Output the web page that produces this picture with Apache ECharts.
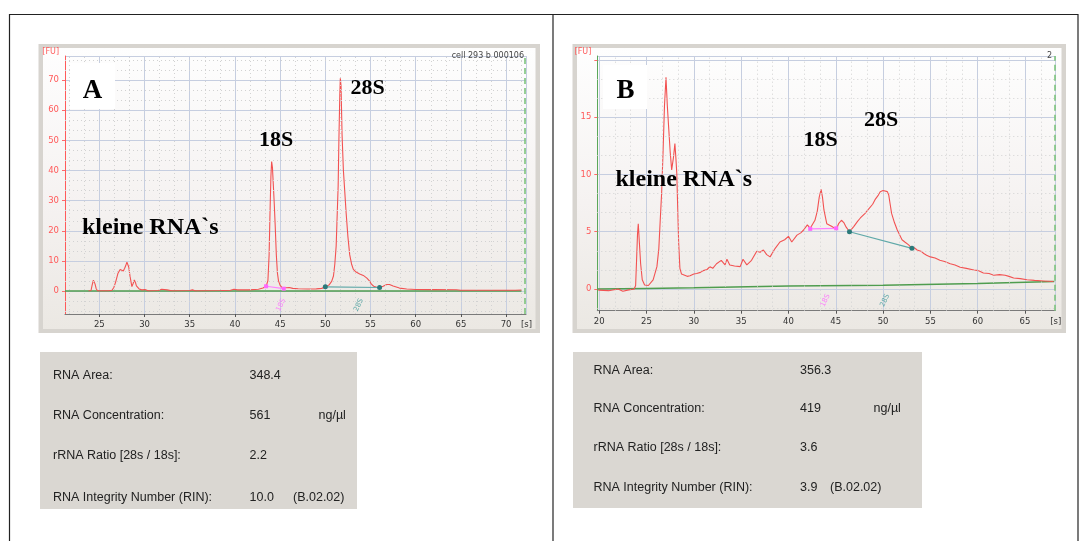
<!DOCTYPE html>
<html>
<head>
<meta charset="utf-8">
<script src="https://cdn.jsdelivr.net/npm/echarts@6/dist/echarts.min.js"></script>
<style>
  html, body { margin: 0; padding: 0; background: #ffffff; }
  #c { width: 1084px; height: 541px; }
</style>
</head>
<body>
<div id="c"></div>
<script>
// ---- Sample A: intact total RNA (time [s], fluorescence [FU]) ----
const traceA = [
  [23.8,0.1],[24.08,0.2],[24.2,2.0],[24.34,3.6],[24.45,3.0],[24.52,2.4],[24.65,0.8],[24.8,0.1],
  [26.0,0.1],[26.4,0.3],[26.6,1.2],[26.8,3.0],[27.05,5.8],[27.3,7.2],[27.5,6.9],[27.65,6.7],
  [27.8,7.6],[27.9,8.3],[28.05,9.6],[28.13,10.2],[28.25,8.0],[28.4,4.8],[28.6,1.5],[28.75,2.6],
  [28.87,3.7],[29.0,2.8],[29.1,1.7],[29.4,0.7],[29.7,0.4],[30.05,0.5],[30.4,0.1],[31.5,0.2],
  [31.9,0.6],[32.1,0.8],[32.5,0.4],[33.0,0.1],[35.0,0.2],[35.3,0.4],[35.6,0.1],[38.5,0.2],
  [39.5,0.3],[39.9,0.6],[40.3,0.4],[41.5,0.4],[42.6,0.6],[43.1,1.0],[43.45,1.6],[43.65,3.5],
  [43.78,12],[43.88,26],[43.98,38],[44.06,43],[44.15,41],[44.25,35],[44.35,29],[44.45,22],
  [44.58,12],[44.7,6],[44.82,3.4],[45.0,1.9],[45.2,1.2],[45.4,0.9],[45.7,1.1],[46.0,1.2],
  [46.4,0.9],[47.0,0.8],[48.0,0.7],[49.0,0.75],[49.6,0.9],[50.0,1.4],[50.4,2.0],[50.7,3.2],
  [50.9,5],[51.05,9],[51.2,15],[51.32,26],[51.42,35],[51.5,50],[51.6,65],[51.66,70.6],
  [51.74,68],[51.85,52],[52.0,40],[52.15,33],[52.3,26],[52.5,18],[52.7,12],[52.9,9.0],
  [53.1,7.2],[53.4,6.3],[53.8,5.7],[54.2,5.2],[54.6,4.3],[54.9,3.3],[55.1,2.3],[55.35,1.6],
  [55.7,1.3],[56.0,1.2],[56.4,1.6],[56.8,2.2],[57.1,2.2],[57.5,1.7],[58.2,1.0],[59.0,0.7],
  [60.0,0.55],[62.0,0.5],[64.5,0.45],[65.0,0.3],[68.0,0.3],[71.0,0.3],[71.7,0.35]
];
const baselineA = [[21.2,0],[71.7,0]];
const span18A = [[43.45,1.6],[45.4,0.8]];
const span28A = [[50.0,1.4],[56.0,1.2]];
const tagsA = [[45.1,-4.6,'18S'],[53.7,-4.6,'28S']];

// ---- Sample B: partly degraded RNA ----
const traceB = [
  [19.9,-0.1],[21.0,-0.15],[22.0,0.0],[22.5,-0.2],[23.0,-0.1],[23.7,0.0],[23.85,0.3],[23.95,2.5],
  [24.05,4.8],[24.13,5.7],[24.25,4.0],[24.38,2.2],[24.55,0.8],[24.8,0.35],[25.2,0.3],[25.7,0.8],
  [26.1,1.95],[26.3,3.5],[26.45,6.0],[26.6,8.4],[26.75,12.0],[26.9,16.0],[27.06,18.5],[27.2,16.0],
  [27.35,14.0],[27.5,12.0],[27.66,10.4],[27.85,11.5],[28.0,12.7],[28.1,11.5],[28.2,10.1],[28.3,7.0],
  [28.4,4.0],[28.53,1.8],[28.7,1.3],[28.9,1.15],[29.3,1.1],[29.6,1.15],[30.0,1.3],[30.3,1.35],
  [30.7,1.45],[31.0,1.6],[31.4,1.7],[31.7,1.95],[32.0,1.8],[32.4,2.2],[32.9,2.5],[33.3,2.1],
  [33.5,2.6],[33.8,2.1],[34.3,2.0],[34.9,1.95],[35.2,2.6],[35.6,2.1],[36.1,2.5],[36.65,3.3],
  [37.0,3.2],[37.35,3.4],[37.7,3.0],[38.06,2.8],[38.6,3.55],[39.1,4.1],[39.6,4.3],[40.0,4.6],
  [40.35,4.1],[40.9,4.7],[41.3,4.9],[41.6,5.15],[42.0,5.6],[42.3,5.3],[42.8,6.0],[43.05,6.8],
  [43.25,8.0],[43.45,8.7],[43.6,8.0],[43.75,6.9],[44.05,5.7],[44.6,5.45],[45.05,5.2],[45.3,5.7],
  [45.6,6.0],[45.85,5.8],[46.1,5.4],[46.45,5.0],[46.9,5.45],[47.3,5.9],[47.6,6.2],[48.1,6.6],
  [48.4,6.9],[48.6,7.05],[48.9,7.4],[49.15,7.8],[49.5,8.2],[49.7,8.5],[50.0,8.6],[50.2,8.65],
  [50.45,8.5],[50.6,8.2],[50.75,7.4],[50.9,6.6],[51.2,5.8],[51.5,5.15],[52.0,4.3],[52.3,4.1],
  [52.7,3.85],[53.05,3.55],[53.3,3.6],[53.6,3.4],[54.0,3.3],[54.3,3.1],[54.6,2.95],[55.0,2.8],
  [55.5,2.7],[56.0,2.5],[56.5,2.4],[57.1,2.2],[57.6,2.1],[58.15,1.9],[58.8,1.8],[59.6,1.65],
  [60.1,1.6],[60.6,1.4],[61.2,1.35],[61.7,1.2],[62.3,1.25],[62.9,1.2],[63.3,1.1],[63.8,0.95],
  [64.5,0.9],[65.2,0.8],[66.0,0.75],[67.0,0.7],[68.0,0.65]
];
const baselineB = [[19.8,0],[25,0.05],[30,0.1],[40,0.25],[50,0.33],[60,0.48],[68.1,0.65]];
const span18B = [[42.3,5.25],[45.05,5.3]];
const span28B = [[46.45,5.0],[53.05,3.55]];
const tagsB = [[43.9,-1.0,'18S'],[50.2,-1.0,'28S']];

// ---- Summary tables ----
const tableLabels = ['RNA Area:', 'RNA Concentration:', 'rRNA Ratio [28s / 18s]:', 'RNA Integrity Number (RIN):'];
const tableA = ['348.4', '561', '2.2', '10.0'];
const tableB = ['356.3', '419', '3.6', '3.9'];
const unitText = 'ng/µl';
const versionText = '(B.02.02)';

// axis ranges
const xRangeA = [21.2, 72.2], yRangeA = [-7.6, 78];
const xRangeB = [19.8, 68.2], yRangeB = [-1.9, 20.35];

const RED = '#f25252';
const GREEN = '#4f9d4f';
const PINK = '#ff66ff';
const TEAL = '#3e9a9a';
const MAJOR = '#c6cee0';
const MINOR = '#d2d2d2';
const AXFONT = 'DejaVu Sans';

// dotted minor grid lines between the labelled major steps
function minorLines(range, major, parts, dim) {
  const step = major / parts, out = [];
  for (let k = Math.ceil(range[0] / step - 1e-9); k * step <= range[1] + 1e-9; k++) {
    if (k % parts === 0) continue;
    out.push({ [dim]: +(k * step).toFixed(4) });
  }
  return out;
}

function xAxisCfg(gridIndex, range, margin) {
  return {
    type: 'value', gridIndex, min: range[0], max: range[1], splitNumber: 10,
    name: '[s]', nameLocation: 'end', nameGap: -5,
    nameTextStyle: { color: '#333', fontSize: 8.5, fontFamily: AXFONT, align: 'left', verticalAlign: 'top', padding: [margin, 0, 0, 0] },
    axisLine: { show: true, onZero: false, lineStyle: { color: '#7a7a7a', width: 1 } },
    axisTick: { show: true, length: 3, lineStyle: { color: '#555' } },
    axisLabel: {
      color: '#333', fontSize: 8.5, fontFamily: AXFONT, margin,
      showMinLabel: false, showMaxLabel: false,
      formatter: v => (Math.abs(v / 5 - Math.round(v / 5)) < 1e-6 ? String(v) : '')
    },
    splitLine: { show: true, lineStyle: { color: MAJOR, width: 1 } }
  };
}

function yAxisCfg(gridIndex, range, splitNumber, step, maxLabel, lineColor) {
  return {
    type: 'value', gridIndex, min: range[0], max: range[1], splitNumber,
    name: '[FU]', nameLocation: 'end', nameGap: 0,
    nameTextStyle: { color: '#ff5a5a', fontSize: 8, fontFamily: AXFONT, align: 'right', verticalAlign: 'bottom', padding: [0, 6, 0, 0] },
    axisLine: { show: true, onZero: false, lineStyle: { color: lineColor, width: 1 } },
    axisTick: { show: true, length: 3, lineStyle: { color: '#ff6a6a' } },
    axisLabel: {
      color: '#ff5a5a', fontSize: 8.5, fontFamily: AXFONT, margin: 6,
      showMinLabel: false, showMaxLabel: false,
      formatter: v => (Math.abs(v / step - Math.round(v / step)) < 1e-6 && v <= maxLabel ? String(v) : '')
    },
    splitLine: { show: true, lineStyle: { color: MAJOR, width: 1 } }
  };
}

const plotBg = {
  type: 'linear', x: 0, y: 0, x2: 0, y2: 1,
  colorStops: [{ offset: 0, color: '#fefefe' }, { offset: 0.55, color: '#f5f2f1' }, { offset: 1, color: '#ebe8e3' }]
};

function panelSeries(ax, xRange, yRange, xMajor, yMajor, trace, baseline, s18, s28, tags, dashX) {
  return [
    {
      type: 'line', xAxisIndex: ax, yAxisIndex: ax, data: [], z: 1, silent: true,
      markLine: {
        silent: true, symbol: ['none', 'none'], label: { show: false }, animation: false,
        lineStyle: { type: [1, 3], color: MINOR, width: 1 },
        data: minorLines(xRange, xMajor, 3, 'xAxis').concat(minorLines(yRange, yMajor, 3, 'yAxis'))
      }
    },
    {
      type: 'line', xAxisIndex: ax, yAxisIndex: ax, data: [], z: 2, silent: true,
      markLine: {
        silent: true, symbol: ['none', 'none'], label: { show: false }, animation: false,
        lineStyle: { type: [6, 4], color: '#7cc47c', width: 1.6 },
        data: [{ xAxis: dashX }]
      }
    },
    {
      type: 'line', xAxisIndex: ax, yAxisIndex: ax, data: baseline, z: 3,
      showSymbol: false, lineStyle: { color: GREEN, width: 1.5 }, silent: true
    },
    {
      type: 'line', xAxisIndex: ax, yAxisIndex: ax, data: trace, z: 4,
      showSymbol: false, lineStyle: { color: RED, width: 1.1 }, silent: true
    },
    {
      type: 'line', xAxisIndex: ax, yAxisIndex: ax, data: s18, z: 5,
      symbol: 'rect', symbolSize: 4, showSymbol: true,
      lineStyle: { color: '#ff80ff', width: 1.2 }, itemStyle: { color: PINK }, silent: true
    },
    {
      type: 'line', xAxisIndex: ax, yAxisIndex: ax, data: s28, z: 5,
      symbol: 'circle', symbolSize: 5, showSymbol: true,
      lineStyle: { color: '#5fa8a8', width: 1.2 }, itemStyle: { color: '#2b7a7a' }, silent: true
    },
    {
      type: 'scatter', xAxisIndex: ax, yAxisIndex: ax, z: 6, symbolSize: 0, silent: true,
      data: tags.map(d => ({ value: d, label: { color: d[2] === '18S' ? PINK : TEAL } })),
      label: {
        show: true, position: 'inside', rotate: 65, fontSize: 7, fontFamily: AXFONT,
        formatter: p => p.value[2]
      },
      itemStyle: { color: 'transparent' }
    }
  ];
}

const series = []
  .concat(panelSeries(0, xRangeA, yRangeA, 5, 10, traceA, baselineA, span18A, span28A, tagsA, 72.1))
  .concat(panelSeries(1, xRangeB, yRangeB, 5, 5, traceB, baselineB, span18B, span28B, tagsB, 68.1));

// static figure furniture: frames, panel letters, annotations, tables
const SERIF = 'Liberation Serif';
function ann(text, x, y, size, align) {
  return {
    type: 'text', x, y, z: 50,
    style: { text, fill: '#000', font: `bold ${size}px "${SERIF}"`, textAlign: align || 'center', textVerticalAlign: 'middle' }
  };
}
function frame(x0, y0, x1, y1) {
  return [
    { type: 'rect', z: -100, shape: { x: x0, y: y0, width: x1 - x0, height: y1 - y0 }, style: { fill: '#d7d4cf' } },
    { type: 'rect', z: -99, shape: { x: x0 + 4.5, y: y0 + 4, width: x1 - x0 - 9, height: y1 - y0 - 8 }, style: { fill: plotBg } }
  ];
}
function table(x0, y0, x1, y1, colX, rowsY, values) {
  const TF = '12.5px "Liberation Sans"';
  const els = [{ type: 'rect', z: -100, shape: { x: x0, y: y0, width: x1 - x0, height: y1 - y0 }, style: { fill: '#dad7d2' } }];
  tableLabels.forEach((lab, i) => {
    els.push({ type: 'text', x: colX[0], y: rowsY[i], z: 50, style: { text: lab, fill: '#222', font: TF, textVerticalAlign: 'middle' } });
    els.push({ type: 'text', x: colX[1], y: rowsY[i], z: 50, style: { text: values[i], fill: '#222', font: TF, textVerticalAlign: 'middle' } });
  });
  els.push({ type: 'text', x: colX[2], y: rowsY[1], z: 50, style: { text: unitText, fill: '#222', font: TF, textVerticalAlign: 'middle' } });
  els.push({ type: 'text', x: colX[3], y: rowsY[3], z: 50, style: { text: versionText, fill: '#222', font: TF, textVerticalAlign: 'middle' } });
  return els;
}

const graphic = [
  // outer borders
  { type: 'line', z: 60, shape: { x1: 9, y1: 14.5, x2: 1078, y2: 14.5 }, style: { stroke: '#222', lineWidth: 1.2 } },
  { type: 'line', z: 60, shape: { x1: 9.5, y1: 14, x2: 9.5, y2: 541 }, style: { stroke: '#222', lineWidth: 1.2 } },
  { type: 'line', z: 60, shape: { x1: 553, y1: 14, x2: 553, y2: 541 }, style: { stroke: '#222', lineWidth: 1.2 } },
  { type: 'line', z: 60, shape: { x1: 1078, y1: 14, x2: 1078, y2: 541 }, style: { stroke: '#222', lineWidth: 1.2 } }
]
  .concat(frame(38.5, 44, 540, 333))
  .concat(frame(572.5, 44, 1066, 333))
  .concat([
    { type: 'rect', z: 40, shape: { x: 70, y: 63, width: 45, height: 46 }, style: { fill: '#ffffff' } },
    { type: 'rect', z: 40, shape: { x: 603, y: 65, width: 44, height: 44 }, style: { fill: '#ffffff' } },
    ann('A', 92.5, 91, 27), ann('B', 625.5, 91, 27),
    ann('18S', 276, 140.5, 22), ann('28S', 367.5, 88.5, 22),
    ann('kleine RNA`s', 82, 228, 24, 'left'),
    ann('18S', 820.5, 140.5, 22), ann('28S', 881, 120, 22),
    ann('kleine RNA`s', 615.5, 180, 24, 'left'),
    { type: 'text', x: 524, y: 56, z: 50, style: { text: 'cell 293 b 000106', fill: '#444', font: `8px "${AXFONT}"`, textAlign: 'right', textVerticalAlign: 'middle' } },
    { type: 'text', x: 1052, y: 56, z: 50, style: { text: '2', fill: '#444', font: `8px "${AXFONT}"`, textAlign: 'right', textVerticalAlign: 'middle' } }
  ])
  .concat(table(40, 352, 357, 509, [53, 249.5, 318.5, 293], [375.5, 416, 455.5, 497.5], tableA))
  .concat(table(573, 352, 922, 508, [593.5, 800, 873.5, 830], [370.5, 408.5, 448, 487.5], tableB));

const chart = echarts.init(document.getElementById('c'), null, { renderer: 'canvas' });
chart.setOption({
  animation: false,
  backgroundColor: '#ffffff',
  grid: [
    { left: 65, top: 56, width: 461, height: 258, show: false },
    { left: 597.3, top: 56, width: 458, height: 254.7, show: false }
  ],
  xAxis: [xAxisCfg(0, xRangeA, 6), xAxisCfg(1, xRangeB, 7)],
  yAxis: [
    yAxisCfg(0, yRangeA, 8, 10, 70, '#ff5a5a'),
    yAxisCfg(1, yRangeB, 5, 5, 15, '#5aa85a')
  ],
  series,
  graphic
});
</script>
</body>
</html>
